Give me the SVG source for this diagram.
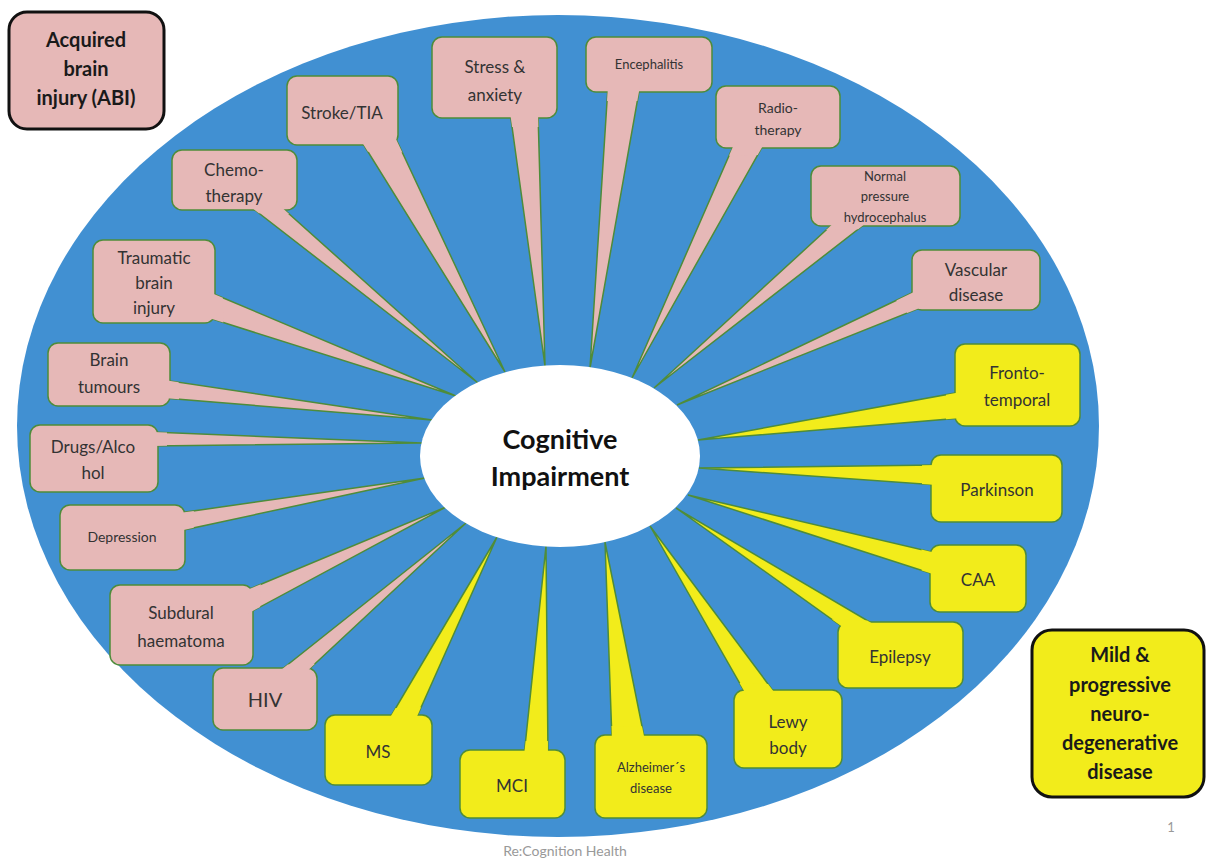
<svg xmlns="http://www.w3.org/2000/svg" width="1208" height="862" viewBox="0 0 1208 862">
<style>
.bg{fill:#ffffff}
.big{fill:#4190d2}
.core{fill:#ffffff}
.tail{stroke:#4e8c3a;stroke-width:1.5;stroke-linejoin:miter}
.box{stroke:#4e8c3a;stroke-width:1.5}
.pink{fill:#e6b8b7}
.yel{fill:#f2ec1b}
.cover{stroke:none}
.legend{stroke:#111111;stroke-width:3}
text{font-family:Lato,"Open Sans","Liberation Sans",sans-serif;fill:#333333;text-anchor:middle}
.t17{font-size:17px}
.t14{font-size:14px}
.t13{font-size:13px}
.t20{font-size:20px}
.center{font-size:27px;font-weight:bold;fill:#111111}
.lg{font-size:20px;font-weight:bold;fill:#1a1a1a}
.foot{font-size:14px;fill:#999999}
</style>
<rect class="bg" x="0" y="0" width="1208" height="862"/>
<ellipse class="big" cx="558" cy="426" rx="541" ry="411"/>

<g id="connectors">
<polygon class="tail pink" points="510,112 538,112 545,366"/>
<polygon class="tail pink" points="608,86 640,86 590,368"/>
<polygon class="tail pink" points="360,139 396,139 505,372"/>
<polygon class="tail pink" points="247,204 278,204 478,383"/>
<polygon class="tail pink" points="209,292 209,318 456,396"/>
<polygon class="tail pink" points="164,380 164,398 432,420"/>
<polygon class="tail pink" points="152,432 152,446 422,443"/>
<polygon class="tail pink" points="179,513 179,531 425,478"/>
<polygon class="tail pink" points="247,590 247,614 446,507"/>
<polygon class="tail pink" points="276,674 304,674 466,523"/>
<polygon class="tail pink" points="735,142 765,142 632,378"/>
<polygon class="tail pink" points="837,220 870,220 654,388"/>
<polygon class="tail pink" points="918,290 930,304 677,405"/>
<polygon class="tail yel" points="961,392 961,418 698,440"/>
<polygon class="tail yel" points="937,465 937,485 699,468"/>
<polygon class="tail yel" points="936,553 936,575 688,495"/>
<polygon class="tail yel" points="844,628 880,628 676,508"/>
<polygon class="tail yel" points="747,696 777,696 650,526"/>
<polygon class="tail yel" points="612,741 645,741 605,542"/>
<polygon class="tail yel" points="524,756 548,756 546,546"/>
<polygon class="tail yel" points="388,721 415,721 497,537"/>
</g>

<g id="cognitive-impairment">
<ellipse class="core" cx="560" cy="456" rx="140" ry="91"/>
<text class="center" x="560" y="449">Cognitive</text>
<text class="center" x="560" y="486">Impairment</text>
</g>

<g id="stress">
<rect class="box pink" x="432" y="37" width="125" height="81" rx="10"/>
<polygon class="cover pink" points="510,112 538,112 538.4,127 512.1,127"/>
<text class="t17" x="495" y="73">Stress &amp;</text>
<text class="t17" x="495" y="101">anxiety</text>
</g>
<g id="encephalitis">
<rect class="box pink" x="586" y="37" width="126" height="55" rx="10"/>
<polygon class="cover pink" points="608,86 640,86 637.3,101 607,101"/>
<text class="t13" x="649" y="69">Encephalitis</text>
</g>
<g id="stroke">
<rect class="box pink" x="287" y="76" width="111" height="69" rx="10"/>
<polygon class="cover pink" points="360,139 396,139 402.3,152.6 368,151.8"/>
<text class="t17" x="342" y="119">Stroke/TIA</text>
</g>
<g id="chemo">
<rect class="box pink" x="172" y="150" width="125" height="60" rx="10"/>
<polygon class="cover pink" points="247,204 278,204 289.2,214 258.9,213.2"/>
<text class="t17" x="234" y="176">Chemo-</text>
<text class="t17" x="234" y="202">therapy</text>
</g>
<g id="traumatic">
<rect class="box pink" x="93" y="240" width="122" height="83" rx="10"/>
<polygon class="cover pink" points="209,292 209,318 223.3,322.5 222.8,297.8"/>
<text class="t17" x="154" y="264">Traumatic</text>
<text class="t17" x="154" y="289">brain</text>
<text class="t17" x="154" y="314">injury</text>
</g>
<g id="brain-tumours">
<rect class="box pink" x="48" y="343" width="122" height="63" rx="10"/>
<polygon class="cover pink" points="164,380 164,398 179,399.2 178.7,382.2"/>
<text class="t17" x="109" y="366">Brain</text>
<text class="t17" x="109" y="393">tumours</text>
</g>
<g id="drugs">
<rect class="box pink" x="30" y="425" width="128" height="67" rx="10"/>
<polygon class="cover pink" points="152,432 152,446 167,445.8 167,432.6"/>
<text class="t17" x="93" y="453">Drugs/Alco</text>
<text class="t17" x="93" y="479">hol</text>
</g>
<g id="depression">
<rect class="box pink" x="60" y="505" width="125" height="65" rx="10"/>
<polygon class="cover pink" points="179,513 179,531 193.8,527.8 193.8,510.9"/>
<text class="t14" x="122" y="542">Depression</text>
</g>
<g id="subdural">
<rect class="box pink" x="110" y="585" width="143" height="80" rx="10"/>
<polygon class="cover pink" points="247,590 247,614 260.2,606.9 260.8,584.3"/>
<text class="t17" x="181" y="619">Subdural</text>
<text class="t17" x="181" y="647">haematoma</text>
</g>
<g id="hiv">
<rect class="box pink" x="213" y="668" width="104" height="62" rx="10"/>
<polygon class="cover pink" points="276,674 304,674 315,663.7 287.8,664.6"/>
<text class="t20" x="265" y="707">HIV</text>
</g>
<g id="radiotherapy">
<rect class="box pink" x="716" y="86" width="124" height="62" rx="10"/>
<polygon class="cover pink" points="735,142 765,142 757.7,155 729,155.7"/>
<text class="t14" x="778" y="113">Radio-</text>
<text class="t14" x="778" y="135">therapy</text>
</g>
<g id="nph">
<rect class="box pink" x="811" y="166" width="149" height="60" rx="10"/>
<polygon class="cover pink" points="837,220 870,220 858.1,229.2 826,230"/>
<text class="t13" x="885" y="181">Normal</text>
<text class="t13" x="885" y="201">pressure</text>
<text class="t13" x="885" y="222">hydrocephalus</text>
</g>
<g id="vascular">
<rect class="box pink" x="912" y="250" width="128" height="60" rx="10"/>
<polygon class="cover pink" points="918,290 930,304 907.2,313.1 896.3,300.4"/>
<text class="t17" x="976" y="276">Vascular</text>
<text class="t17" x="976" y="301">disease</text>
</g>
<g id="frontotemporal">
<rect class="box yel" x="955" y="344" width="125" height="82" rx="10"/>
<polygon class="cover yel" points="961,392 961,418 946,419.3 946,394.7"/>
<text class="t17" x="1017" y="379">Fronto-</text>
<text class="t17" x="1017" y="406">temporal</text>
</g>
<g id="parkinson">
<rect class="box yel" x="931" y="455" width="131" height="67" rx="10"/>
<polygon class="cover yel" points="937,465 937,485 922,483.9 922,465.2"/>
<text class="t17" x="997" y="496">Parkinson</text>
</g>
<g id="caa">
<rect class="box yel" x="930" y="545" width="96" height="67" rx="10"/>
<polygon class="cover yel" points="936,553 936,575 921.7,570.4 921.4,549.6"/>
<text class="t17" x="978" y="586">CAA</text>
</g>
<g id="epilepsy">
<rect class="box yel" x="838" y="622" width="125" height="66" rx="10"/>
<polygon class="cover yel" points="844,628 880,628 867.1,620.4 831.7,619.2"/>
<text class="t17" x="900" y="663">Epilepsy</text>
</g>
<g id="lewy">
<rect class="box yel" x="734" y="690" width="108" height="78" rx="10"/>
<polygon class="cover yel" points="747,696 777,696 768,684 739.5,682.9"/>
<text class="t17" x="788" y="728">Lewy</text>
<text class="t17" x="788" y="754">body</text>
</g>
<g id="alzheimers">
<rect class="box yel" x="595" y="735" width="112" height="83" rx="10"/>
<polygon class="cover yel" points="612,741 645,741 642,726.3 611.5,726"/>
<text class="t13" x="651" y="772">Alzheimer´s</text>
<text class="t13" x="651" y="793">disease</text>
</g>
<g id="mci">
<rect class="box yel" x="460" y="750" width="105" height="68" rx="10"/>
<polygon class="cover yel" points="524,756 548,756 547.9,741 525.6,741"/>
<text class="t17" x="512" y="792">MCI</text>
</g>
<g id="ms">
<rect class="box yel" x="325" y="715" width="107" height="70" rx="10"/>
<polygon class="cover yel" points="388,721 415,721 421.1,707.2 395.6,708.1"/>
<text class="t17" x="378" y="758">MS</text>
</g>

<g id="legend-abi">
<rect class="legend pink" x="9" y="12" width="155" height="117" rx="18"/>
<text class="lg" x="86" y="47">Acquired</text>
<text class="lg" x="86" y="76">brain</text>
<text class="lg" x="86" y="105">injury (ABI)</text>
</g>
<g id="legend-neuro">
<rect class="legend yel" x="1032" y="630" width="172" height="167" rx="20"/>
<text class="lg" x="1120" y="662">Mild &amp;</text>
<text class="lg" x="1120" y="692">progressive</text>
<text class="lg" x="1120" y="721">neuro-</text>
<text class="lg" x="1120" y="750">degenerative</text>
<text class="lg" x="1120" y="779">disease</text>
</g>

<text class="foot" x="565" y="856">Re:Cognition Health</text>
<text class="foot" x="1171" y="832" style="font-size:13px">1</text>
</svg>
